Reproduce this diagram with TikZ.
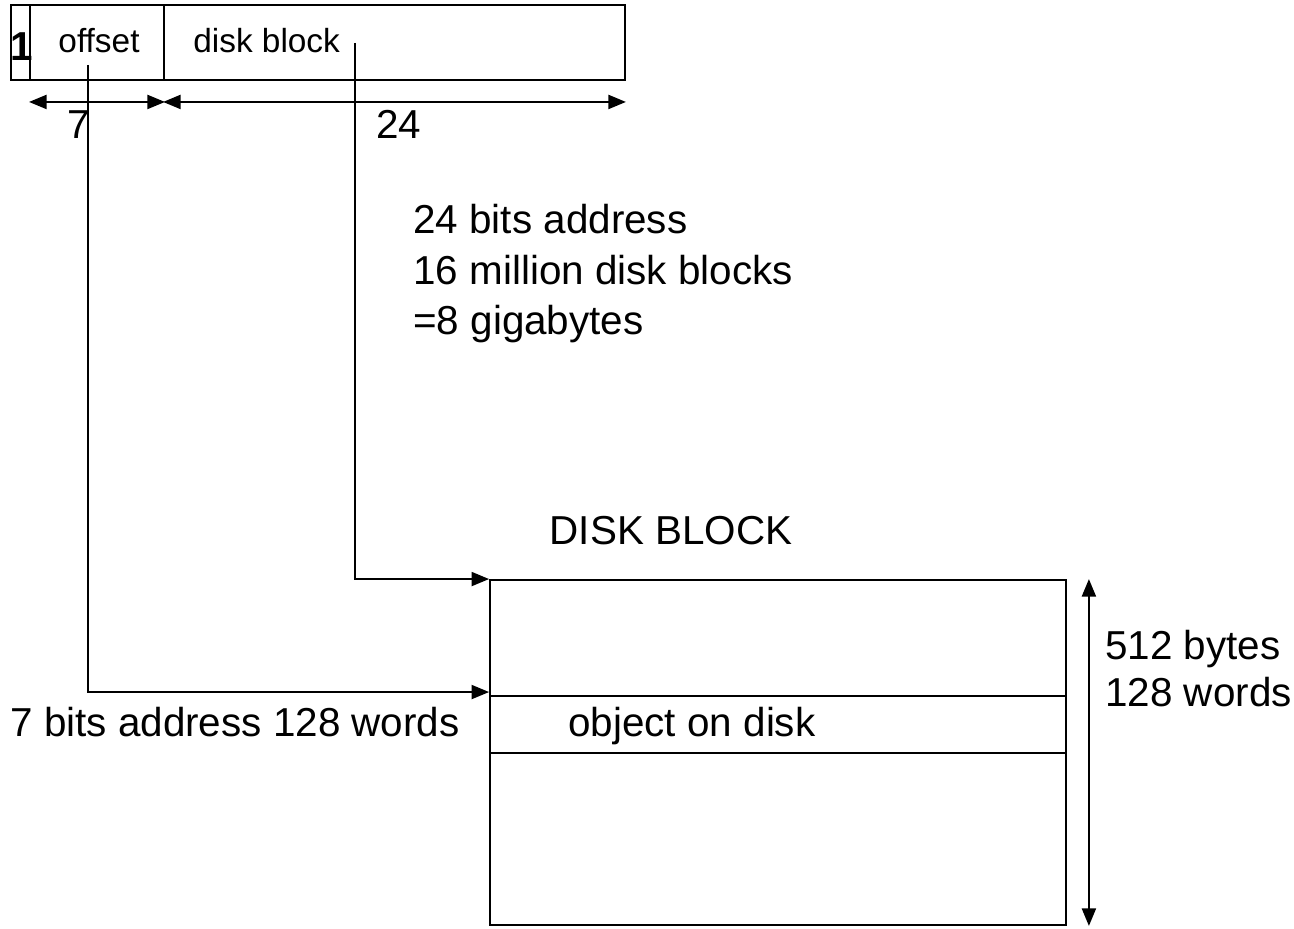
\documentclass[tikz,border=0pt]{standalone}
\usepackage{fontspec}
\setmainfont{Liberation Sans}
\usetikzlibrary{arrows.meta, calc}

\tikzset{
  field/.style={draw, line width=1.1pt, inner sep=0, minimum height=1.5cm},
  row/.style={draw, line width=1.1pt, inner sep=0, minimum width=11.52cm},
  big/.style={font=\fontsize{23}{28}\selectfont, inner sep=0},
  small/.style={font=\fontsize{19}{23}\selectfont, inner sep=0},
  feed/.style={line width=1.1pt, -{Triangle[length=10pt,width=8pt]}},
  dim/.style={line width=1.1pt, {Triangle[length=10pt,width=8pt]}-{Triangle[length=10pt,width=8pt]}}
}

\begin{document}
\begin{tikzpicture}[x=0.02cm, y=-0.02cm]
\useasboundingbox (0,0) rectangle (1294,929);
% address word
\node[field, minimum width=0.38cm] (flag) at (20.5,42.5) {};
\node[field, minimum width=2.68cm] (off) at (97,42.5) {};
\node[field, minimum width=9.22cm] (blk) at (394.5,42.5) {};
\node[big, anchor=base] (one) at (22,61) {\bfseries 1};
\node[small, anchor=base] (offl) at (99,53) {offset};
\node[small, anchor=base west] (blkl) at (193,53) {disk block};
\draw[dim] ($(off.south west)+(0,21)$) -- ($(off.south east)+(0,21)$);
\draw[dim] ($(blk.south west)+(0,21)$) -- ($(blk.south east)+(0,21)$);
\node[big, anchor=base] (seven) at (79,139) {7};
\node[big, anchor=base west] (twentyfour) at (376,139) {24};
% notes
\node[big, anchor=base west] (n1) at (413,234) {24 bits address};
\node[big, anchor=base west] (n2) at (413,284) {16 million disk blocks};
\node[big, anchor=base west] (n3) at (413,334) {=8 gigabytes};
% disk block
\node[big, anchor=base] (title) at (671,544) {DISK BLOCK};
\node[row, minimum height=2.32cm] (toprow) at (778,638) {};
\node[row, minimum height=1.14cm] (objrow) at (778,724.5) {};
\node[row, minimum height=3.44cm] (botrow) at (778,839) {};
\node[big, anchor=base west] (objl) at (568,736) {object on disk};
\node[big, anchor=base west] (wordl) at (10,736) {7 bits address 128 words};
\draw[dim] ($(toprow.north east)+(22,0)$) -- ($(botrow.south east)+(22,0)$);
\node[big, anchor=base west] (s1) at (1105,659) {512 bytes};
\node[big, anchor=base west] (s2) at (1105,706) {128 words};
% pointers
\coordinate (offtap) at (88,65);
\coordinate (blktap) at (355,43);
\draw[feed] (offtap) |- ($(objrow.north west)+(0,-3)$);
\draw[feed] (blktap) |- (toprow.north west);
\end{tikzpicture}
\end{document}
